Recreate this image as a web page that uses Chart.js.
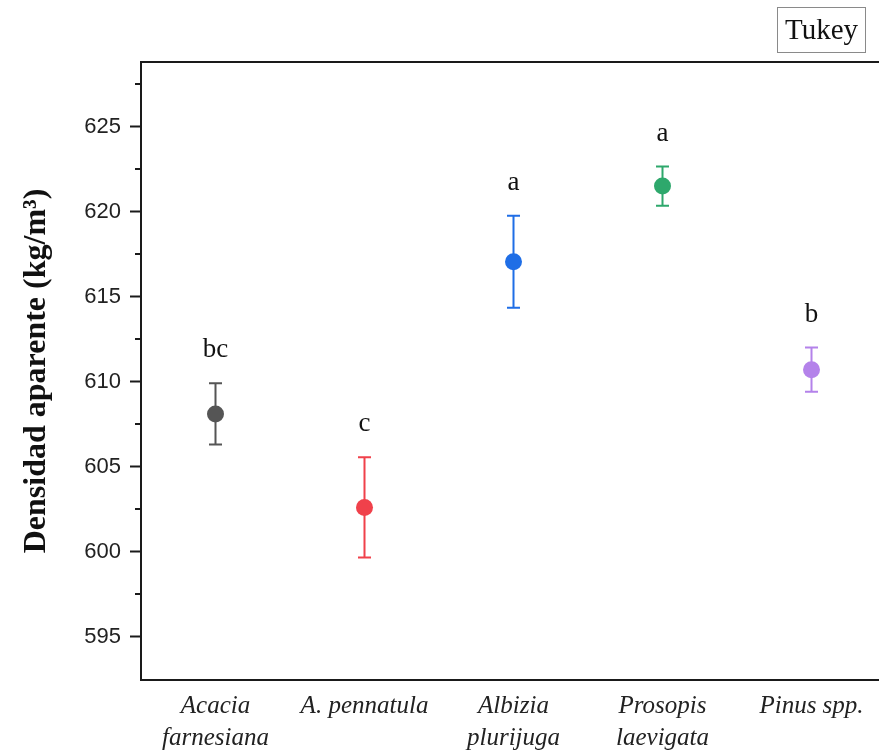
<!DOCTYPE html>
<html>
<head>
<meta charset="utf-8">
<script src="https://cdn.jsdelivr.net/npm/chart.js@4"></script>
<style>
  html, body { margin: 0; padding: 0; background: #fff; overflow: hidden; }
  canvas { display: block; }
</style>
</head>
<body>
<canvas id="graficoDensidad" width="879" height="753"></canvas>
<script>
// especies (dos lineas por etiqueta)
const especies = [
    ['Acacia', 'farnesiana'],
    ['A. pennatula'],
    ['Albizia', 'plurijuga'],
    ['Prosopis', 'laevigata'],
    ['Pinus spp.']
];
const medias = [608.1, 602.6, 617.05, 621.5, 610.7];
const errores = [1.8, 2.95, 2.7, 1.15, 1.3];
const letrasTukey = ['bc', 'c', 'a', 'a', 'b'];
const colores = ['#555555', '#f0414b', '#1f6ee6', '#2ea86c', '#b482ea'];
const ticksY = [595, 600, 605, 610, 615, 620, 625];
const ticksMenores = [597.5, 602.5, 607.5, 612.5, 617.5, 622.5, 627.5];

const colorEje = '#1a1a1a';

// barras de error, letras de Tukey, marco superior y leyenda
const extras = {
    id: 'extras',
    beforeDatasetsDraw(chart) {
        const ctx = chart.ctx;
        const x = chart.scales.x, y = chart.scales.y;
        ctx.save();
        ctx.lineWidth = 2;
        medias.forEach((m, i) => {
            const px = x.getPixelForValue(i);
            const top = y.getPixelForValue(m + errores[i]);
            const bot = y.getPixelForValue(m - errores[i]);
            ctx.strokeStyle = colores[i];
            ctx.beginPath();
            ctx.moveTo(px, top); ctx.lineTo(px, bot);
            ctx.moveTo(px - 6.5, top); ctx.lineTo(px + 6.5, top);
            ctx.moveTo(px - 6.5, bot); ctx.lineTo(px + 6.5, bot);
            ctx.stroke();
        });
        ctx.restore();
    },
    afterDraw(chart) {
        const ctx = chart.ctx;
        const x = chart.scales.x, y = chart.scales.y;
        const area = chart.chartArea;
        ctx.save();
        // letras
        ctx.fillStyle = '#111';
        ctx.font = '27px "Liberation Serif", "Times New Roman", serif';
        ctx.textAlign = 'center';
        ctx.textBaseline = 'middle';
        medias.forEach((m, i) => {
            const px = x.getPixelForValue(i);
            const top = y.getPixelForValue(m + errores[i]);
            ctx.fillText(letrasTukey[i], px, top - 33);
        });
        // marco superior
        ctx.strokeStyle = colorEje;
        ctx.lineWidth = 2;
        ctx.beginPath();
        ctx.moveTo(area.left - 1, area.top);
        ctx.lineTo(area.right, area.top);
        ctx.stroke();
        // ticks menores
        ctx.beginPath();
        ticksMenores.forEach(v => {
            const py = Math.round(y.getPixelForValue(v));
            if (py < area.top || py > area.bottom) return;
            ctx.moveTo(area.left - 6, py);
            ctx.lineTo(area.left, py);
        });
        ctx.stroke();
        // caja Tukey
        ctx.strokeStyle = '#8a8a8a';
        ctx.lineWidth = 1;
        ctx.strokeRect(777.5, 7.5, 88, 45);
        ctx.fillStyle = '#111';
        ctx.font = '29px "Liberation Serif", "Times New Roman", serif';
        ctx.fillText('Tukey', 821.5, 31);
        ctx.restore();
    }
};

function crearGrafico() {
    const ctx = document.getElementById('graficoDensidad').getContext('2d');

    window.graficoDensidad = new Chart(ctx, {
        type: 'scatter',
        data: {
            datasets: [{
                label: 'Densidad aparente',
                data: medias.map((m, i) => ({ x: i, y: m })),
                pointBackgroundColor: colores,
                pointBorderColor: colores,
                pointBorderWidth: 0,
                pointRadius: 8.5,
                pointHoverRadius: 8.5
            }]
        },
        options: {
            responsive: false,
            animation: false,
            layout: { autoPadding: false, padding: { top: 62, right: 0, bottom: 0, left: 0 } },
            plugins: {
                legend: { display: false },
                tooltip: { enabled: false }
            },
            scales: {
                x: {
                    type: 'linear',
                    min: -0.5,
                    max: 4.453,
                    afterBuildTicks: s => { s.ticks = especies.map((e, i) => ({ value: i })); },
                    afterFit: s => { s.height = 73; s.paddingRight = 0; s.paddingLeft = 0; },
                    grid: { display: true, drawOnChartArea: false, drawTicks: false },
                    border: { display: true, color: colorEje, width: 2 },
                    ticks: {
                        padding: 10,
                        maxRotation: 0,
                        autoSkip: false,
                        color: '#222',
                        font: { family: '"Liberation Serif", "Times New Roman", serif', size: 25, style: 'italic', lineHeight: 1.3 },
                        callback: v => especies[v]
                    }
                },
                y: {
                    min: 592.45,
                    max: 628.8,
                    afterBuildTicks: s => { s.ticks = ticksY.map(v => ({ value: v })); },
                    afterFit: s => { s.width = 141; },
                    grid: { drawOnChartArea: false, drawTicks: true, tickLength: 11, tickWidth: 2, tickColor: colorEje },
                    border: { display: true, color: colorEje, width: 2 },
                    ticks: {
                        padding: 9,
                        color: '#222',
                        font: { family: '"Liberation Sans", Arial, sans-serif', size: 22 }
                    },
                    title: {
                        display: true,
                        text: 'Densidad aparente (kg/m³)',
                        color: '#111',
                        padding: { top: 18, bottom: 0 },
                        font: { family: '"Liberation Serif", "Times New Roman", serif', size: 32, weight: 'bold' }
                    }
                }
            }
        },
        plugins: [extras]
    });
}

window.addEventListener('DOMContentLoaded', crearGrafico);
</script>
</body>
</html>
